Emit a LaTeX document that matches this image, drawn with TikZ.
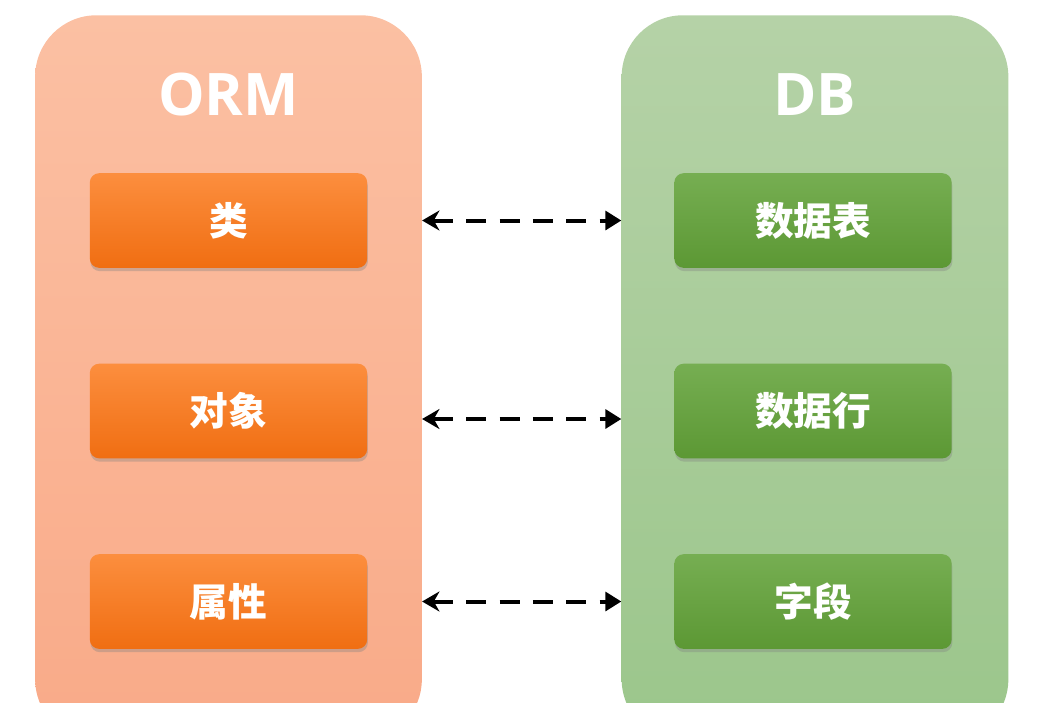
\documentclass[tikz,border=0pt]{standalone}
\usepackage{fontspec}
\setmainfont{Open Sans}
\newfontfamily\cjk{Noto Sans CJK SC}
\usepackage{tikz}
\usetikzlibrary{positioning,shadows,arrows.meta}
\definecolor{ormpanel}{RGB}{251,192,163}
\definecolor{ormpanelb}{RGB}{249,170,136}
\definecolor{dbpanel}{RGB}{181,210,167}
\definecolor{dbpanelb}{RGB}{155,198,139}
\definecolor{ormbox}{RGB}{252,142,62}
\definecolor{ormboxb}{RGB}{240,110,18}
\definecolor{dbbox}{RGB}{118,174,82}
\definecolor{dbboxb}{RGB}{92,152,52}

\begin{document}
\begin{tikzpicture}[x=0.75pt,y=-0.75pt,
  panel/.style={rounded corners=46pt, minimum width=290pt, minimum height=544pt, anchor=north},
  title/.style={text=white, font=\bfseries\fontsize{44}{44}\selectfont},
  item/.style={rounded corners=7pt, minimum width=208pt, minimum height=71pt,
    text=white, font=\cjk\bfseries\fontsize{29}{29}\selectfont,
    drop shadow={shadow xshift=0.5pt, shadow yshift=-2.5pt, opacity=0.35}},
  ormitem/.style={item, top color=ormbox, bottom color=ormboxb},
  dbitem/.style={item, top color=dbbox, bottom color=dbboxb},
  link/.style={{Stealth[length=13pt,width=15pt]}-{Triangle[length=12pt,width=14pt]},
    line width=3pt, dash pattern=on 15pt off 10pt}]
\useasboundingbox (0,0) rectangle (1046,721);

% Panels (cut off at the bottom)
\begin{scope}
\clip (0,0) rectangle (1046,702);
\node[panel, top color=ormpanel, bottom color=ormpanelb] (orm) at (228.5,15) {};
\node[panel, top color=dbpanel, bottom color=dbpanelb] (db) at (815,15) {};
\end{scope}

% Titles
\node[title] (ormtitle) at (228.5,95) {ORM};
\node[title] (dbtitle) at (815,95) {DB};

% ORM side
\node[ormitem] (lei) at (228.5,220.5) {类};
\node[ormitem] (duixiang) at (228.5,411) {对象};
\node[ormitem] (shuxing) at (228.5,601.5) {属性};

% DB side
\node[dbitem] (biao) at (813,220.5) {数据表};
\node[dbitem] (hang) at (813,411) {数据行};
\node[dbitem] (ziduan) at (813,601.5) {字段};

% Mappings
\draw[link] (orm.east |- lei) -- (db.west |- biao);
\draw[link] ([yshift=-6pt]orm.east |- duixiang) -- ([yshift=-6pt]db.west |- hang);
\draw[link] (orm.east |- shuxing) -- (db.west |- ziduan);
\end{tikzpicture}
\end{document}
